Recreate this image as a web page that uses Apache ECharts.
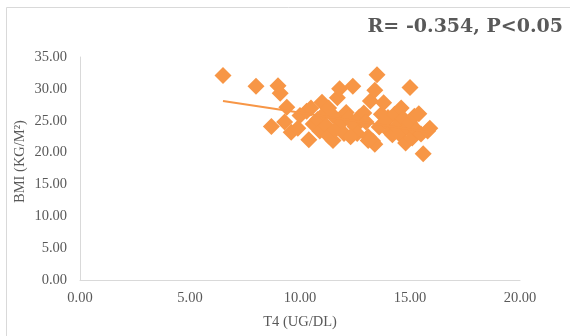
<!DOCTYPE html>
<html><head><meta charset="utf-8">
<script src="https://cdn.jsdelivr.net/npm/echarts@6/dist/echarts.min.js"></script>
<style>html,body{margin:0;padding:0;background:#fff}#c{width:570px;height:336px}</style>
</head><body><div id="c"></div>
<script>
const titleText = 'R= -0.354, P<0.05';
const xName = 'T4 (UG/DL)';
const yName = 'BMI (KG/M²)';
const xTicks = [0, 5, 10, 15, 20];
const yTicks = [0, 5, 10, 15, 20, 25, 30, 35];
const t4 = [6.5,8.0,9.0,9.1,9.4,8.7,9.3,9.6,9.9,10.0,10.3,10.5,10.4,10.6,10.8,10.9,11.0,11.1,11.2,11.3,11.3,11.5,11.5,11.6,11.7,11.8,11.9,12.0,12.1,12.2,12.4,12.5,12.6,12.7,12.9,13.0,13.1,13.2,13.3,13.4,13.4,13.5,13.6,13.7,13.8,13.9,14.0,14.1,14.2,14.3,14.4,14.5,14.6,14.7,14.8,14.9,15.0,15.0,15.1,15.2,15.3,15.4,15.5,15.6,15.8,15.9,13.1,12.3];
const bmi = [32.1,30.4,30.5,29.3,27.1,24.1,24.8,23.2,23.8,25.8,26.5,27.0,22.0,24.5,25.2,23.4,27.9,26.1,24.2,27.0,22.6,21.9,25.8,23.6,28.6,30.0,24.8,23.0,26.3,25.4,30.4,24.1,23.0,25.6,26.2,24.8,22.5,28.1,21.8,21.3,29.8,32.2,24.0,26.0,27.8,24.9,25.5,23.2,22.8,26.0,24.1,23.0,27.0,25.3,21.5,23.8,30.2,24.6,22.3,25.7,23.5,26.1,22.9,19.8,23.4,23.8,21.9,22.5];
const trendX = [6.5, 15.9];
const trendY = [28.1, 23.2];

const orange = '#F79646';
const labelFont = {fontFamily: 'Liberation Serif', fontSize: 14.5, color: '#595959'};
const chart = echarts.init(document.getElementById('c'), null, {renderer: 'canvas'});
chart.setOption({
  animation: false,
  backgroundColor: '#fff',
  title: {
    text: titleText, right: 2, top: 13,
    textStyle: {fontFamily: 'DejaVu Serif', fontWeight: 'bold', fontSize: 19, color: '#595959'}
  },
  graphic: [{
    type: 'rect', shape: {x: 6.5, y: 7.5, width: 580, height: 340},
    style: {fill: 'none', stroke: '#D9D9D9', lineWidth: 1}, silent: true, z: -1
  }],
  grid: {left: 80, right: 50, top: 57, bottom: 56},
  xAxis: {
    type: 'value', min: xTicks[0], max: xTicks[xTicks.length - 1], interval: 5,
    name: xName, nameLocation: 'middle', nameGap: 35, nameMoveOverlap: false,
    nameTextStyle: labelFont,
    axisLine: {show: true, lineStyle: {color: '#D9D9D9', width: 1}},
    axisTick: {show: false}, splitLine: {show: false},
    axisLabel: Object.assign({margin: 11, formatter: v => v.toFixed(2)}, labelFont)
  },
  yAxis: {
    type: 'value', min: yTicks[0], max: yTicks[yTicks.length - 1], interval: 5,
    name: yName, nameLocation: 'middle', nameGap: 52, nameMoveOverlap: false,
    nameTextStyle: Object.assign({padding: [0, 0, 0, 14]}, labelFont),
    axisLine: {show: true, lineStyle: {color: '#D9D9D9', width: 1}},
    axisTick: {show: false}, splitLine: {show: false},
    axisLabel: Object.assign({margin: 13, formatter: v => v.toFixed(2)}, labelFont)
  },
  series: [{
    type: 'scatter', symbol: 'diamond', symbolSize: 17,
    itemStyle: {color: orange, opacity: 1},
    data: t4.map((x, i) => [x, bmi[i]]), z: 2
  }, {
    type: 'line', showSymbol: false, symbol: 'none',
    lineStyle: {color: orange, width: 2},
    data: trendX.map((x, i) => [x, trendY[i]]), z: 3
  }]
});
</script></body></html>
